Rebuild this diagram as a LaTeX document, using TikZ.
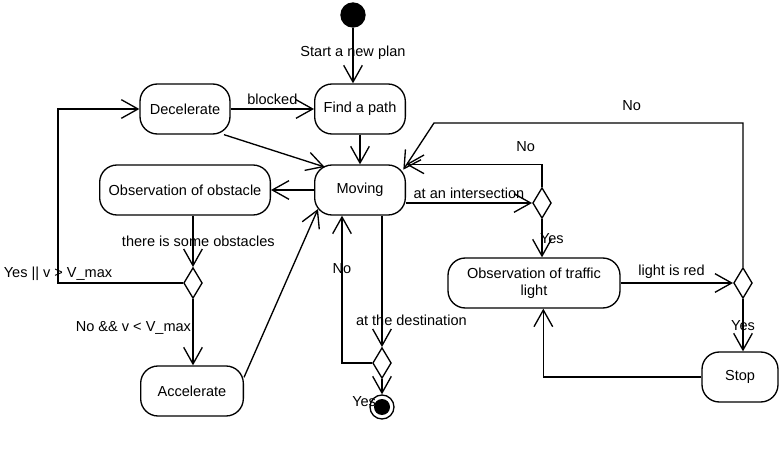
\documentclass[tikz,border=0pt]{standalone}
\usepackage{fontspec}
\setmainfont{Liberation Sans}
\usetikzlibrary{arrows.meta, shapes.geometric, positioning}

\begin{document}
\begin{tikzpicture}[x=.75pt, y=-.75pt, line width=1pt,
    font=\fontsize{10.9}{13}\selectfont,
    >={Straight Barb[length=12.5pt, width=14pt]},
    activity/.style={draw, rounded corners=13pt, minimum height=37.5pt, inner sep=2pt, align=center},
    decision/.style={draw, diamond, minimum width=14pt, minimum height=23pt, inner sep=0pt},
    lbl/.style={inner sep=1pt}]
      \useasboundingbox (0,0) rectangle (779,449);
      \node[circle, fill, minimum size=19pt, inner sep=0pt] (start) at (353,15) {};
      \node[circle, draw, minimum size=18pt, inner sep=0pt,
        path picture={\fill (path picture bounding box.center) circle (6pt);}] (goal) at (382,407) {};
      \node[activity, minimum width=67.5pt] (decel) at (185,109) {Decelerate};
      \node[activity, minimum width=68pt] (findpath) at (360,109) {Find a path};
      \node[activity, minimum width=68pt] (moving) at (360,190) {Moving};
      \node[activity, minimum width=128pt] (obsobst) at (185,190) {Observation of obstacle};
      \node[activity, minimum width=77pt] (accel) at (192,391) {Accelerate};
      \node[activity, minimum width=129pt] (light) at (534,283) {Observation of traffic\\light};
      \node[activity, minimum width=57pt] (stop) at (740,377) {Stop};
      \node[decision] (d1) at (193,283) {};
      \node[decision] (d2) at (542,203) {};
      \node[decision] (d3) at (382,363) {};
      \node[decision] (d4) at (743,283) {};
      \draw[->] (start) -- (start |- findpath.north) node[lbl, pos=.45] {Start a new plan};
      \draw[->] (decel) -- (findpath) node[lbl, midway, above=2pt] {blocked};
      \draw[->] (findpath) -- (moving);
      \draw[->] ([xshift=-5pt]decel.south east) -- ([xshift=8pt, yshift=-2pt]moving.north west);
      \draw[->] (moving) -- (obsobst);
      \draw[->] (d1 |- obsobst.south) -- (d1) node[lbl, midway, xshift=4pt] {there is some obstacles};
      \draw[->] (d1.west) -- ++(-125,0) node[lbl, at end, anchor=south] {Yes || v > V\_max} |- (decel.west);
      \draw[->] (d1) -- (d1 |- accel.north) node[lbl, pos=.43, anchor=east] {No \&\& v < V\_max};
      \draw[->] ([yshift=-9pt]accel.north east) -- ([xshift=3pt, yshift=5pt]moving.south west);
      \draw[->] (d3 |- moving.south) -- (d3) node[lbl, pos=.8, anchor=west, xshift=-21pt] {at the destination};
      \draw[->] (d3.west) -| ([xshift=-13.5pt]moving.south) node[lbl, pos=.82] {No};
      \draw[->] (d3) -- (goal) node[lbl, at end, anchor=north east, xshift=-3pt] {Yes};
      \draw[->] (moving.east |- d2) -- (d2) node[lbl, midway, above=2pt] {at an intersection};
      \draw[->] (d2) |- (moving.north east) node[lbl, pos=.56, above=8pt] {No};
      \draw[->] (d2) -- (d2 |- light.north) node[lbl, midway, right=-3pt] {Yes};
      \draw[->] (light) -- (d4) node[lbl, midway, above=2pt, xshift=-4pt] {light is red};
      \draw[->] (d4) -- (d4 |- stop.north) node[lbl, midway] {Yes};
      \draw[->] (d4) |- ([xshift=21pt, yshift=31pt]moving.north east) node[lbl, pos=.68, above=8pt] {No}
        -- ([xshift=-2pt, yshift=-4pt]moving.north east);
      \draw[->] (stop) -| ([xshift=7pt]light.south);
    \end{tikzpicture}
\end{document}
